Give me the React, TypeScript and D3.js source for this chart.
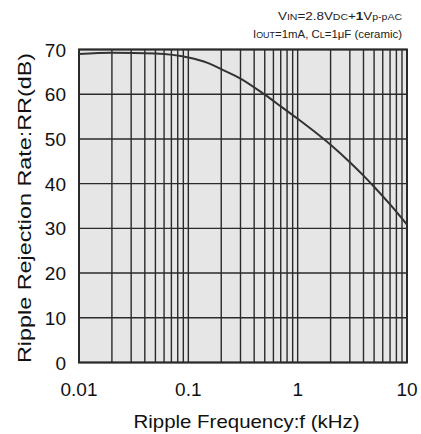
import React from "react";
import * as d3 from "d3";

const freqKHz = [0.01, 0.02, 0.05, 0.1, 0.15, 0.2, 0.3, 0.5, 0.7, 1, 1.5, 2, 3, 4, 5, 7, 10];
const rrDb = [69.0, 69.3, 69.1, 68.2, 67.0, 65.6, 63.5, 59.9, 57.3, 54.5, 51.2, 48.7, 44.8, 41.8, 39.3, 35.35, 30.85];
const yTicks = [0, 10, 20, 30, 40, 50, 60, 70];
const xTickLabels = ["0.01", "0.1", "1", "10"];
const xTickValues = [0.01, 0.1, 1, 10];

export default function App() {
  const W = 421, H = 434;
  const L = 79, R = 407, T = 49.5, B = 362.5;
  const x = d3.scaleLog().domain([0.01, 10]).range([L, R]);
  const y = d3.scaleLinear().domain([0, 70]).range([B, T]);
  const minor: number[] = [];
  for (let e = -2; e < 1; e++) {
    for (let k = 1; k <= 9; k++) minor.push(k * Math.pow(10, e));
  }
  minor.push(10);
  const line = d3.line<number>()
    .x((_, i) => x(freqKHz[i]))
    .y((d) => y(d))
    .curve(d3.curveMonotoneX);
  const font = "Liberation Sans, Arial, sans-serif";
  const grid = "#2a2a2a";
  return (
    <svg width={W} height={H} style={{ position: "absolute", left: 0, top: 0 }} fontFamily={font}>
      <rect x={0} y={0} width={W} height={H} fill="#fff" />
      <rect x={L} y={T} width={R - L} height={B - T} fill="#e6e6e6" />
      {minor.map((f, i) => (
        <line key={"v" + i} x1={x(f)} x2={x(f)} y1={T} y2={B} stroke={grid} strokeWidth={1.4} />
      ))}
      {yTicks.map((t) => (
        <line key={"h" + t} x1={L} x2={R} y1={y(t)} y2={y(t)} stroke={grid} strokeWidth={1.4} />
      ))}
      <rect x={L} y={T} width={R - L} height={B - T} fill="none" stroke={grid} strokeWidth={2} />
      <path d={line(rrDb) || ""} fill="none" stroke="#333" strokeWidth={2} />
      {yTicks.map((t) => (
        <text key={"yl" + t} x={66} y={y(t) + 7} textAnchor="end" fontSize={19} fill="#111">{t}</text>
      ))}
      {xTickValues.map((f, i) => (
        <text key={"xl" + i} x={x(f)} y={396} textAnchor="middle" fontSize={19} fill="#111">{xTickLabels[i]}</text>
      ))}
      <text x={246.5} y={428} textAnchor="middle" fontSize={19} fill="#111" textLength={226} lengthAdjust="spacingAndGlyphs">Ripple Frequency:f (kHz)</text>
      <text transform={`translate(31,${(T + B) / 2 + 2}) rotate(-90)`} textAnchor="middle" fontSize={19} fill="#111" textLength={310} lengthAdjust="spacingAndGlyphs">Ripple Rejection Rate:RR(dB)</text>
      <text x={402} y={20} textAnchor="end" fontSize={11.5} fill="#222" textLength={124} lengthAdjust="spacingAndGlyphs">
        <tspan>V</tspan><tspan fontSize={9}>IN</tspan><tspan>=2.8V</tspan><tspan fontSize={9}>DC</tspan><tspan>+</tspan><tspan fontWeight="bold">1</tspan><tspan>V</tspan><tspan fontSize={9}>p-pAC</tspan>
      </text>
      <text x={402} y={38} textAnchor="end" fontSize={11.5} fill="#222" textLength={149} lengthAdjust="spacingAndGlyphs">
        <tspan>I</tspan><tspan fontSize={9}>OUT</tspan><tspan>=1mA,  C</tspan><tspan fontSize={9}>L</tspan><tspan>=1μF  (ceramic)</tspan>
      </text>
    </svg>
  );
}
